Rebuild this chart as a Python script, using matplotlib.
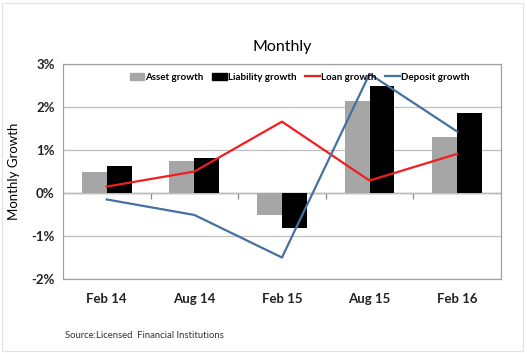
import numpy as np
import matplotlib.pyplot as plt
from matplotlib.patches import Rectangle
from matplotlib.lines import Line2D

plt.rcParams['font.family'] = ['Lato', 'DejaVu Sans']

periods = ['Feb 14', 'Aug 14', 'Feb 15', 'Aug 15', 'Feb 16']
asset_growth = [0.50, 0.75, -0.50, 2.14, 1.30]
liability_growth = [0.64, 0.82, -0.82, 2.50, 1.85]
loan_growth = [0.15, 0.50, 1.66, 0.29, 0.91]
deposit_growth = [-0.15, -0.51, -1.50, 2.77, 1.43]

grey = '#A6A6A6'
red = '#F01E1E'
blue = '#46709E'
frame = '#A0A0A0'

fig = plt.figure(figsize=(5.27, 3.53), dpi=100)
fig.patches.append(Rectangle((0.004, 0.006), 0.988, 0.985, transform=fig.transFigure,
                             fill=False, edgecolor='#E2E2E2', linewidth=0.8))
ax = fig.add_axes([0.1195, 0.2096, 0.831, 0.609])

x = np.arange(len(periods))
w = 0.285
ax.bar(x - w / 2, asset_growth, w, color=grey, label='Asset growth', zorder=2)
ax.bar(x + w / 2, liability_growth, w, color='black', label='Liability growth', zorder=2)
ax.plot(x, loan_growth, color=red, lw=1.6, label='Loan growth', zorder=3)
ax.plot(x, deposit_growth, color=blue, lw=1.6, label='Deposit growth', zorder=3)

ax.set_xlim(-0.5, len(periods) - 0.5)
ax.set_ylim(-2, 3)
ax.set_yticks(range(-2, 4))
ax.set_yticklabels([f'{v}%' for v in range(-2, 4)], fontweight='bold')
ax.yaxis.grid(True, color='#BFBFBF', lw=0.9, zorder=0)
ax.axhline(0, color='#8C8C8C', lw=1.0, zorder=1)
ax.set_xticks(x)
ax.set_xticklabels(periods, fontweight='bold')
ax.tick_params(axis='both', length=0, labelsize=9.5, colors='#222222')
ax.tick_params(axis='x', pad=10)
ax.tick_params(axis='y', pad=6)
for s in ax.spines.values():
    s.set_color(frame)
    s.set_linewidth(0.9)

# tick marks between categories on the zero line
zero_axis = ax.secondary_xaxis(0.4)
zero_axis.set_xticks(np.arange(0.5, len(periods) - 1, 1.0))
zero_axis.set_xticklabels([])
zero_axis.tick_params(length=4, width=0.9, color='#8C8C8C', direction='out')
zero_axis.spines['bottom'].set_visible(False)

ax.set_ylabel('Monthly Growth', fontsize=9.5, labelpad=8)
fig.text(0.535, 0.855, 'Monthly', ha='center', fontsize=11.5)

handles = [Rectangle((0, 0), 1, 1, color=grey), Rectangle((0, 0), 1, 1, color='black'),
           Line2D([], [], color=red, lw=1.6), Line2D([], [], color=blue, lw=1.6)]
labels = ['Asset growth', 'Liability growth', 'Loan growth', 'Deposit growth']
ax.legend(handles, labels, loc='upper center', bbox_to_anchor=(0.54, 1.0), ncol=4,
          frameon=False, prop={'weight': 'bold', 'size': 7}, handlelength=1.5,
          handletextpad=0.1, columnspacing=0.9, handleheight=0.7)

fig.text(0.123, 0.042, 'Source:Licensed  Financial Institutions', fontsize=6.8, color='#333333')

fig.savefig('out.png', dpi=100)
